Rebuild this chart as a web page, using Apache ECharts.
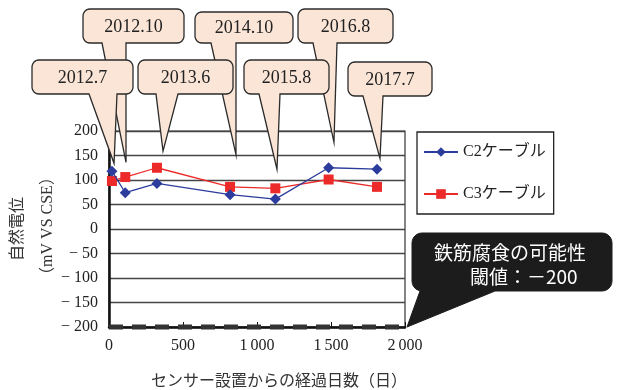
<!DOCTYPE html>
<html>
<head>
<meta charset="utf-8">
<script src="https://cdn.jsdelivr.net/npm/echarts@6/dist/echarts.min.js"></script>
<style>
  html, body { margin: 0; padding: 0; background: #fff; }
  #chart { width: 619px; height: 390px; }
</style>
</head>
<body>
<div id="chart"></div>
<script>
// Days elapsed since the sensors were installed, one entry per survey
const days = [20, 110, 324, 818, 1124, 1484, 1811];
// Survey dates (year.month) for each measurement
const surveyDates = ['2012.7', '2012.10', '2013.6', '2014.10', '2015.8', '2016.8', '2017.7'];
// Natural potential (mV vs CSE)
const c2Values = [118, 74, 93, 70, 61, 125, 122];
const c3Values = [98, 106, 125, 86, 83, 101, 86];
const seriesNames = ['C2ケーブル', 'C3ケーブル'];
// Corrosion-risk threshold
const threshold = -200;
// Axis ticks and titles
const xTicks = [0, 500, 1000, 1500, 2000];
const xTickLabels = ['0', '500', '1\u2009000', '1\u2009500', '2\u2009000'];
const yTicks = [-200, -150, -100, -50, 0, 50, 100, 150, 200];
const yTickLabels = ['\u2212 200', '\u2212 150', '\u2212 100', '\u2212 50', '0', '50', '100', '150', '200'];
const xTitle = 'センサー設置からの経過日数（日）';
const yTitleLines = ['自然電位', '（mV VS CSE）'];

const SERIF = '"Liberation Serif", "Noto Sans CJK JP", serif';
const CJK = '"Noto Sans CJK JP", "Liberation Serif", sans-serif';

const chart = echarts.init(document.getElementById('chart'), null, { renderer: 'canvas' });

chart.setOption({
  animation: false,
  backgroundColor: '#fff',
  grid: {
    left: 109, right: 214, top: 131, bottom: 63,
    outerBoundsMode: 'none', containLabel: false,
    show: true, borderColor: '#333', borderWidth: 1.2, backgroundColor: 'transparent'
  },
  legend: {
    data: seriesNames,
    orient: 'vertical',
    left: 417, top: 132,
    itemWidth: 34, itemHeight: 12, itemGap: 26,
    padding: [12, 8, 12, 6],
    borderColor: '#222', borderWidth: 1.3,
    textStyle: { fontFamily: SERIF, fontSize: 16, color: '#222' }
  },
  xAxis: {
    type: 'value',
    min: xTicks[0], max: xTicks[xTicks.length - 1], interval: 500,
    name: xTitle,
    nameLocation: 'middle', nameGap: 45,
    nameTextStyle: { fontFamily: CJK, fontSize: 16, color: '#333', padding: [0, 0, 0, 44] },
    axisLine: { show: true, onZero: false, lineStyle: { color: '#111', width: 2.5 } },
    axisTick: { show: true, inside: true, length: 5, lineStyle: { color: '#111', width: 1 } },
    axisLabel: {
      margin: 11, fontFamily: SERIF, fontSize: 16, color: '#222',
      formatter: v => xTickLabels[xTicks.indexOf(v)] ?? String(v)
    },
    splitLine: { show: false }
  },
  yAxis: {
    type: 'value',
    min: yTicks[0], max: yTicks[yTicks.length - 1], interval: 50,
    axisLine: { show: true, onZero: false, lineStyle: { color: '#111', width: 2.5 } },
    axisTick: { show: false },
    axisLabel: {
      margin: 11, fontFamily: SERIF, fontSize: 16, color: '#222',
      formatter: v => yTickLabels[yTicks.indexOf(v)] ?? String(v)
    },
    splitLine: { show: true, lineStyle: { color: '#444', width: 1.4 } }
  },
  series: [
    {
      name: seriesNames[0], type: 'line',
      data: days.map((d, i) => [d, c2Values[i]]),
      symbol: 'diamond', symbolSize: 11,
      itemStyle: { color: '#2c3c9c' },
      lineStyle: { color: '#2c3c9c', width: 1.3 },
      z: 3
    },
    {
      name: seriesNames[1], type: 'line',
      data: days.map((d, i) => [d, c3Values[i]]),
      symbol: 'rect', symbolSize: 10,
      itemStyle: { color: '#ec2a2a' },
      lineStyle: { color: '#ec2a2a', width: 1.3 },
      z: 2
    },
    {
      name: '閾値', type: 'line',
      data: [[xTicks[0], threshold], [xTicks[xTicks.length - 1], threshold]],
      showSymbol: false, clip: false, silent: true,
      lineStyle: { color: '#333', width: 5, type: [14, 9] },
      z: 4
    }
  ]
});

// Speech-bubble callouts: box in pixels, pointer base on the box's bottom edge,
// pointer tip in data coordinates (day, mV). Upper row first so the lower row overlaps it.
const calloutLayout = [
  { date: '2012.10', box: [83, 9, 101, 34], base: [102, 126], tip: [115, 136] },
  { date: '2014.10', box: [195, 12, 98, 31], base: [211, 236], tip: [858, 152] },
  { date: '2016.8',  box: [298, 9, 95, 34],  base: [313, 337], tip: [1520, 177] },
  { date: '2012.7',  box: [32, 60, 101, 34], base: [89, 117],  tip: [34, 134] },
  { date: '2013.6',  box: [138, 60, 95, 34], base: [156, 178], tip: [365, 159] },
  { date: '2015.8',  box: [244, 60, 85, 34], base: [259, 280], tip: [1135, 122] },
  { date: '2017.7',  box: [348, 62, 84, 34], base: [363, 383], tip: [1831, 144] }
];

// Outline of a rounded box with a pointer, as polygon points
function bubblePoints(box, base, tip, r) {
  const [x, y, w, h] = box;
  const b = y + h;
  const pts = [];
  const arc = (cx, cy, a0, a1) => {
    const n = 6;
    for (let k = 0; k <= n; k++) {
      const a = a0 + (a1 - a0) * k / n;
      pts.push([cx + r * Math.cos(a), cy + r * Math.sin(a)]);
    }
  };
  const P = Math.PI;
  arc(x + r, y + r, P, 1.5 * P);          // top-left
  arc(x + w - r, y + r, 1.5 * P, 2 * P);  // top-right
  arc(x + w - r, b - r, 0, 0.5 * P);      // bottom-right
  pts.push([base[1], b]);
  pts.push([tip[0], tip[1]]);
  pts.push([base[0], b]);
  arc(x + r, b - r, 0.5 * P, P);          // bottom-left
  return pts;
}

const graphics = [];

// Vertical axis title, two rotated columns
[[18, 229], [48, 226]].forEach(([cx, cy], i) => {
  graphics.push({
    type: 'text', z: 5, x: cx, y: cy, rotation: Math.PI / 2,
    style: {
      text: yTitleLines[i], fill: '#333', font: '16px ' + SERIF,
      textAlign: 'center', textVerticalAlign: 'middle'
    }
  });
});

calloutLayout.forEach((c, i) => {
  const tipPx = chart.convertToPixel({ gridIndex: 0 }, c.tip);
  const label = surveyDates[surveyDates.indexOf(c.date)];
  graphics.push({
    type: 'polygon', z: 10 + i * 2,
    shape: { points: bubblePoints(c.box, c.base, tipPx, 7) },
    style: { fill: '#fbe5d6', stroke: '#2b2b2b', lineWidth: 1.3 }
  });
  graphics.push({
    type: 'text', z: 11 + i * 2,
    x: c.box[0] + c.box[2] / 2, y: c.box[1] + c.box[3] / 2 + 1,
    style: {
      text: label, fill: '#222', font: '18px ' + SERIF,
      textAlign: 'center', textVerticalAlign: 'middle'
    }
  });
});

// Threshold note pointing at the end of the dashed line
const noteTip = chart.convertToPixel({ gridIndex: 0 }, [xTicks[xTicks.length - 1], threshold]);
graphics.push({
  type: 'polygon', z: 40,
  shape: { points: bubblePoints([412, 233, 200, 58], [420, 495], [noteTip[0] + 2, noteTip[1]], 10) },
  style: { fill: '#1c1c1c', stroke: '#1c1c1c', lineWidth: 1 }
});
graphics.push({
  type: 'text', z: 41, x: 510, y: 253,
  style: { text: '鉄筋腐食の可能性', fill: '#fff', font: '19px ' + CJK, textAlign: 'center', textVerticalAlign: 'middle' }
});
graphics.push({
  type: 'text', z: 41, x: 470, y: 277,
  style: { text: '閾値：－' + Math.abs(threshold), fill: '#fff', font: '19px ' + CJK, textAlign: 'left', textVerticalAlign: 'middle' }
});

chart.setOption({ graphic: graphics });
</script>
</body>
</html>
